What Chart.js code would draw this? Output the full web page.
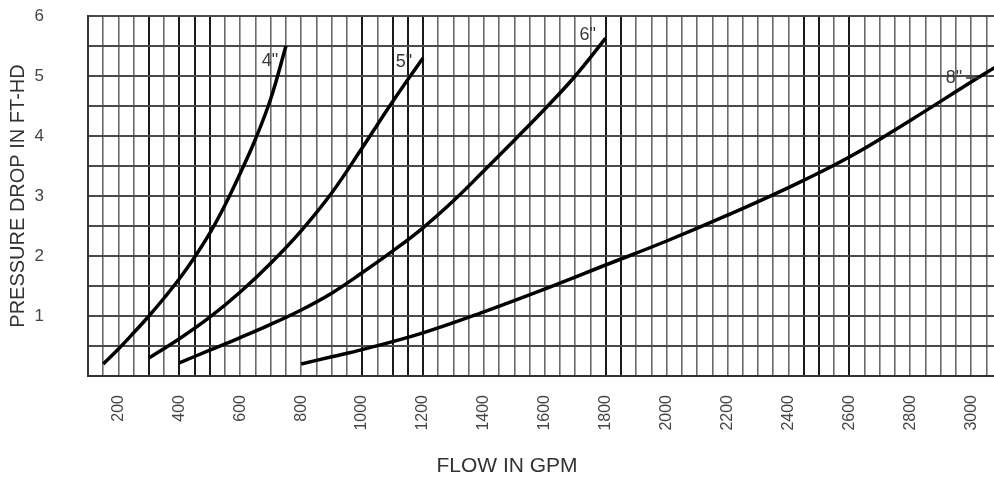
<!DOCTYPE html>
<html>
<head>
<meta charset="utf-8">
<script src="https://cdn.jsdelivr.net/npm/chart.js@4/dist/chart.umd.min.js"></script>
<style>
	html, body { margin: 0; padding: 0; background: #fff; }
	#wrap { width: 994px; height: 481px; position: relative; }
</style>
</head>
<body>
<div id="wrap"><canvas id="myChart"></canvas></div>
<script>
// pipe sizes and the curve readings (flow in GPM, pressure drop in ft-hd)
const pipeSizes = ['4"', '5"', '6"', '8"'];

const flow4 = [150, 200, 250, 300, 350, 400, 450, 500, 550, 600, 650, 700, 750];
const drop4 = [0.2, 0.45, 0.72, 1.0, 1.3, 1.62, 1.98, 2.38, 2.85, 3.38, 3.95, 4.62, 5.5];

const flow5 = [300, 400, 500, 600, 700, 800, 900, 1000, 1100, 1200];
const drop5 = [0.3, 0.62, 0.98, 1.4, 1.88, 2.42, 3.05, 3.8, 4.57, 5.3];

const flow6 = [400, 500, 600, 700, 800, 900, 1000, 1100, 1200, 1300, 1400, 1500, 1600, 1700, 1800];
const drop6 = [0.22, 0.43, 0.64, 0.86, 1.1, 1.38, 1.72, 2.08, 2.47, 2.92, 3.42, 3.93, 4.45, 5.0, 5.63];

const flow8 = [800, 900, 1000, 1200, 1400, 1600, 1800, 2000, 2200, 2400, 2600, 2800, 3000, 3080];
const drop8 = [0.2, 0.32, 0.44, 0.72, 1.07, 1.45, 1.85, 2.25, 2.68, 3.14, 3.65, 4.26, 4.9, 5.15];

// flows where the scanned grid has a darker line
const heavyLines = [300, 400, 450, 500, 1000, 1100, 1150, 1200, 1800, 1850, 2450, 2500, 2600];

const xMin = 100, xMax = 3075, xStep = 50;
const yMin = 0, yMax = 6, yStep = 0.5;

function pts(xs, ys) {
	return xs.map((x, i) => ({ x: x, y: ys[i] }));
}

const series = [pts(flow4, drop4), pts(flow5, drop5), pts(flow6, drop6), pts(flow8, drop8)];

// label offsets from each curve's last point, in pixels
const labelOffsets = [[-16, 15], [-19, 4], [-18, -3], [-40, 11]];

const curveLabels = {
	id: "curveLabels",
	afterDatasetsDraw(chart) {
		const ctx = chart.ctx;
		const xs = chart.scales.x, ys = chart.scales.y;
		ctx.save();
		ctx.font = '18px "Liberation Sans", Arial, sans-serif';
		ctx.fillStyle = "#3a3a3a";
		ctx.textAlign = "center";
		ctx.textBaseline = "middle";
		series.forEach((s, i) => {
			const last = s[s.length - 1];
			const px = Math.min(xs.getPixelForValue(last.x), chart.chartArea.right);
			const py = ys.getPixelForValue(last.y);
			const lx = px + labelOffsets[i][0];
			const ly = py + labelOffsets[i][1];
			ctx.fillText(pipeSizes[i], lx, ly);
			if (i === 3) {
				ctx.strokeStyle = "#333";
				ctx.lineWidth = 1.5;
				ctx.beginPath();
				ctx.moveTo(lx + 12, ly);
				ctx.lineTo(lx + 25, ly);
				ctx.stroke();
			}
		});
		ctx.restore();
	},
	afterDraw(chart) {
		const ctx = chart.ctx;
		ctx.save();
		ctx.font = '21px "Liberation Sans", Arial, sans-serif';
		ctx.fillStyle = "#333";
		ctx.textAlign = "center";
		ctx.textBaseline = "middle";
		ctx.fillText("FLOW IN GPM", 507, 466);
		ctx.restore();
	},
};

const ctx = document.getElementById("myChart");

new Chart(ctx, {
	type: "line",
	data: {
		datasets: series.map((s, i) => ({
			label: pipeSizes[i],
			data: s,
			borderColor: "#000",
			borderWidth: 3.5,
			pointRadius: 0,
			tension: 0.4,
			fill: false,
		})),
	},
	options: {
		responsive: true,
		maintainAspectRatio: false,
		animation: false,
		events: [],
		layout: { padding: { top: 16, right: 0, bottom: 0, left: 0 } },
		plugins: { legend: { display: false }, tooltip: { enabled: false } },
		scales: {
			x: {
				type: "linear",
				min: xMin,
				max: xMax,
				afterBuildTicks: (scale) => {
					const t = [];
					for (let v = xMin; v < xMax; v += xStep) t.push({ value: v });
					scale.ticks = t;
				},
				afterFit: (scale) => {
					scale.height = 105;
					scale.paddingLeft = 0;
					scale.paddingRight = 0;
				},
				ticks: {
					autoSkip: false,
					minRotation: 90,
					maxRotation: 90,
					padding: 19,
					color: "#444",
					font: { family: '"Liberation Sans", Arial, sans-serif', size: 16 },
					callback: (v) => (v % 200 === 0 ? String(v) : ""),
				},
				grid: {
					drawTicks: false,
					color: (c) => (heavyLines.includes(c.tick && c.tick.value) ? "#1a1a1a" : "#6a6a6a"),
					lineWidth: (c) => (heavyLines.includes(c.tick && c.tick.value) ? 2 : 1.6),
				},
				border: { display: true, color: "#333", width: 2 },
			},
			y: {
				min: yMin,
				max: yMax,
				afterFit: (scale) => {
					scale.width = 88;
					scale.paddingTop = 0;
					scale.paddingBottom = 0;
				},
				ticks: {
					stepSize: yStep,
					autoSkip: false,
					padding: 44,
					color: "#444",
					font: { family: '"Liberation Sans", Arial, sans-serif', size: 17 },
					callback: (v) => (Number.isInteger(v) && v > 0 ? String(v) : ""),
				},
				grid: { drawTicks: false, color: "#4a4a4a", lineWidth: 2 },
				border: { display: true, color: "#333", width: 2 },
				title: {
					display: true,
					text: "PRESSURE DROP IN FT-HD",
					color: "#333",
					font: { family: '"Liberation Sans", Arial, sans-serif', size: 20 },
					padding: { top: 6, bottom: 0 },
				},
			},
		},
	},
	plugins: [curveLabels],
});
</script>
</body>
</html>
